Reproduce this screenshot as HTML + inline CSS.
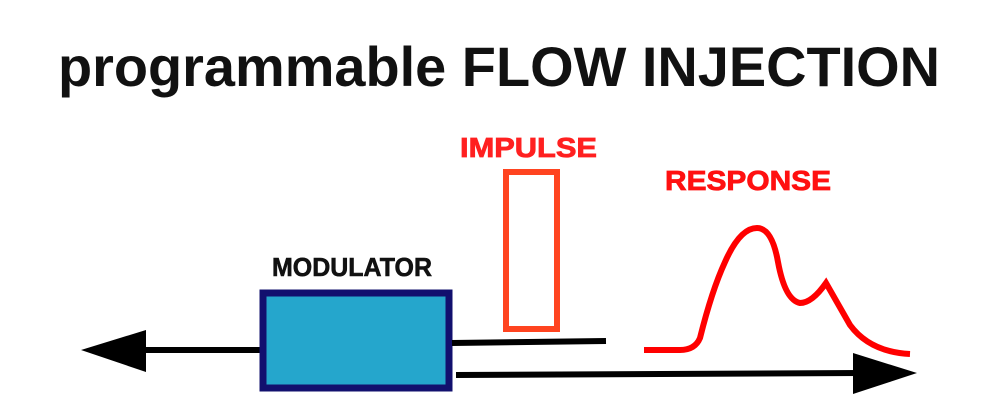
<!DOCTYPE html>
<html><head><meta charset="utf-8"><style>
html,body{margin:0;padding:0;background:#fff;}
svg{display:block;}
</style></head><body>
<svg width="1001" height="415" viewBox="0 0 1001 415" xmlns="http://www.w3.org/2000/svg">
<text x="58" y="86" font-family="Liberation Sans, sans-serif" font-size="56" font-weight="bold" fill="#111" textLength="882" lengthAdjust="spacingAndGlyphs">programmable FLOW INJECTION</text>
<text x="460" y="157" font-family="Liberation Sans, sans-serif" font-size="28" font-weight="bold" fill="#ff2020" stroke="#ff2020" stroke-width="0.8" textLength="137" lengthAdjust="spacingAndGlyphs">IMPULSE</text>
<text x="665" y="190" font-family="Liberation Sans, sans-serif" font-size="28" font-weight="bold" fill="#ff1010" stroke="#ff1010" stroke-width="0.8" textLength="166" lengthAdjust="spacingAndGlyphs">RESPONSE</text>
<text x="272" y="276" font-family="Liberation Sans, sans-serif" font-size="26" font-weight="bold" fill="#111" stroke="#111" stroke-width="0.6" textLength="160" lengthAdjust="spacingAndGlyphs">MODULATOR</text>
<line x1="140" y1="350" x2="262" y2="350" stroke="#000" stroke-width="6"/>
<polygon points="81,350 146,330 146,372" fill="#000"/>
<rect x="263" y="293" width="186" height="95" fill="#25a6cc" stroke="#12106e" stroke-width="7"/>
<line x1="452" y1="343" x2="606" y2="341" stroke="#000" stroke-width="6"/>
<line x1="456" y1="375" x2="860" y2="373" stroke="#000" stroke-width="6"/>
<polygon points="917,373 853,353 853,394" fill="#000"/>
<rect x="506" y="172" width="51" height="157" fill="none" stroke="#ff4420" stroke-width="6"/>
<path d="M644,350 L680,350 Q695,350 700,338 Q712,290 725,262 Q740,228 757,228 Q772,228 778,262 Q785,300 800,303 Q812,303 826,283 L850,325 Q870,352 910,354" fill="none" stroke="#ff0000" stroke-width="6"/>
</svg>
</body></html>
